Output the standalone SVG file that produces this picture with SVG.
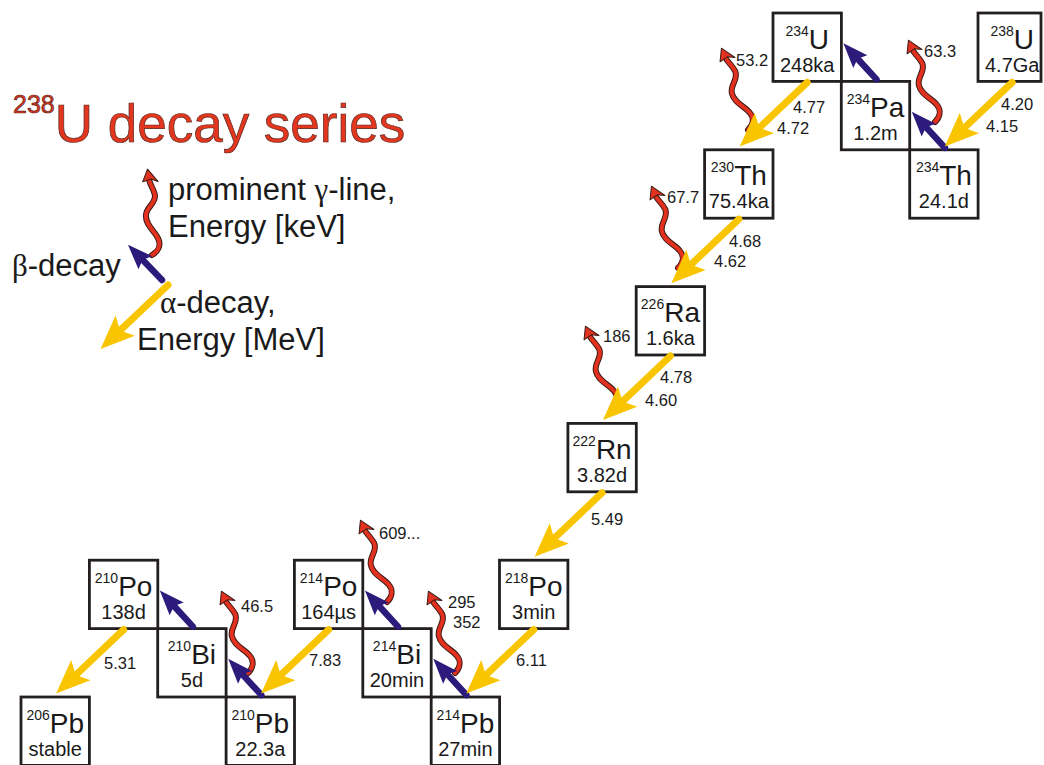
<svg xmlns="http://www.w3.org/2000/svg" xmlns:xlink="http://www.w3.org/1999/xlink" width="1044" height="765" viewBox="0 0 1044 765">
<style>
.box{fill:#fff;stroke:#231f20;stroke-width:2.8}
.sym{font-family:"Liberation Sans",Arial,sans-serif;font-size:28px;fill:#1a1a1a;text-anchor:middle}
.sup{font-size:14px}
.hl{font-family:"Liberation Sans",Arial,sans-serif;font-size:20px;fill:#1a1a1a;text-anchor:middle}
.en{font-family:"Liberation Sans",Arial,sans-serif;font-size:16.5px;fill:#1a1a1a}
.lg{font-family:"Liberation Sans",Arial,sans-serif;font-size:31px;fill:#1a1a1a}
.gk{font-family:"Liberation Serif","Times New Roman",serif}
.title{font-family:"Liberation Sans",Arial,sans-serif;fill:#e3361e;stroke:#5a2a22;stroke-width:0.7}
</style>
<defs>
<g id="alpha">
<path d="M0,0 L67,0" stroke="#f8c500" stroke-width="7" stroke-linecap="round" fill="none"/>
<path d="M93,0 L59,-14 L66,0 L59,14 Z" fill="#f8c500"/>
</g>
<g id="beta">
<path d="M0,0 L28,0" stroke="#2d1b7c" stroke-width="6.5" stroke-linecap="round" fill="none"/>
<path d="M49,0 L24,-9.5 L28,0 L24,9.5 Z" fill="#2d1b7c"/>
</g>
<g id="gam">
<path d="M0,0 C6,-3 10,-9 7,-16 C4,-24 -5,-30 -4,-40 C-3,-49 7,-51 6,-60 C5,-66 2,-70 1,-75" fill="none" stroke="#3a1a14" stroke-width="6" stroke-linecap="round"/>
<path d="M0,0 C6,-3 10,-9 7,-16 C4,-24 -5,-30 -4,-40 C-3,-49 7,-51 6,-60 C5,-66 2,-70 1,-75" fill="none" stroke="#e2311f" stroke-width="4" stroke-linecap="round"/>
<path d="M0,-86 L10,-73 L3,-76 L-5.5,-73.5 Z" fill="#e2311f" stroke="#3a1a14" stroke-width="1" stroke-linejoin="round"/>
</g>
</defs>

<g id="title">
<text class="title" x="13" y="142"><tspan font-size="25" dy="-29">238</tspan><tspan font-size="53" dy="29">U decay series</tspan></text>
</g>

<g id="legend">
<use xlink:href="#gam" href="#gam" transform="translate(152,255) rotate(-3)"/>
<use xlink:href="#beta" href="#beta" transform="translate(162,280) rotate(-134)"/>
<use xlink:href="#alpha" href="#alpha" transform="translate(168,285) rotate(136.5)"/>
<text class="lg" x="168" y="200">prominent <tspan class="gk">γ</tspan>-line,</text>
<text class="lg" x="168" y="237">Energy [keV]</text>
<text class="lg" x="12" y="276"><tspan class="gk">β</tspan>-decay</text>
<text class="lg" x="160" y="313"><tspan class="gk">α</tspan>-decay,</text>
<text class="lg" x="137" y="350">Energy [MeV]</text>
</g>

<g id="n238U"><rect class="box" x="978" y="13" width="63" height="68.4"/><text class="sym" x="1012.2" y="48.5"><tspan class="sup" dy="-13">238</tspan><tspan dy="13">U</tspan></text><text class="hl" x="1012.2" y="71.5">4.7Ga</text></g>
<g id="n234Th"><rect class="box" x="909.7" y="149.8" width="68.4" height="68.4"/><text class="sym" x="943.9" y="185.3"><tspan class="sup" dy="-13">234</tspan><tspan dy="13">Th</tspan></text><text class="hl" x="943.9" y="208.3">24.1d</text></g>
<g id="n234Pa"><rect class="box" x="841.3" y="81.4" width="68.4" height="68.4"/><text class="sym" x="875.5" y="116.9"><tspan class="sup" dy="-13">234</tspan><tspan dy="13">Pa</tspan></text><text class="hl" x="875.5" y="139.9">1.2m</text></g>
<g id="n234U"><rect class="box" x="773" y="13" width="68.4" height="68.4"/><text class="sym" x="807.2" y="48.5"><tspan class="sup" dy="-13">234</tspan><tspan dy="13">U</tspan></text><text class="hl" x="807.2" y="71.5">248ka</text></g>
<g id="n230Th"><rect class="box" x="704.6" y="149.8" width="68.4" height="68.4"/><text class="sym" x="738.8" y="185.3"><tspan class="sup" dy="-13">230</tspan><tspan dy="13">Th</tspan></text><text class="hl" x="738.8" y="208.3">75.4ka</text></g>
<g id="n226Ra"><rect class="box" x="636.2" y="286.6" width="68.4" height="68.4"/><text class="sym" x="670.4" y="322.1"><tspan class="sup" dy="-13">226</tspan><tspan dy="13">Ra</tspan></text><text class="hl" x="670.4" y="345.1">1.6ka</text></g>
<g id="n222Rn"><rect class="box" x="567.9" y="423.4" width="68.4" height="68.4"/><text class="sym" x="602.1" y="458.9"><tspan class="sup" dy="-13">222</tspan><tspan dy="13">Rn</tspan></text><text class="hl" x="602.1" y="481.9">3.82d</text></g>
<g id="n218Po"><rect class="box" x="499.5" y="560.2" width="68.4" height="68.4"/><text class="sym" x="533.7" y="595.7"><tspan class="sup" dy="-13">218</tspan><tspan dy="13">Po</tspan></text><text class="hl" x="533.7" y="618.7">3min</text></g>
<g id="n214Pb"><rect class="box" x="431.2" y="697" width="68.4" height="68.4"/><text class="sym" x="465.4" y="732.5"><tspan class="sup" dy="-13">214</tspan><tspan dy="13">Pb</tspan></text><text class="hl" x="465.4" y="755.5">27min</text></g>
<g id="n214Bi"><rect class="box" x="362.8" y="628.6" width="68.4" height="68.4"/><text class="sym" x="397" y="664.1"><tspan class="sup" dy="-13">214</tspan><tspan dy="13">Bi</tspan></text><text class="hl" x="397" y="687.1">20min</text></g>
<g id="n214Po"><rect class="box" x="294.4" y="560.2" width="68.4" height="68.4"/><text class="sym" x="328.6" y="595.7"><tspan class="sup" dy="-13">214</tspan><tspan dy="13">Po</tspan></text><text class="hl" x="328.6" y="618.7">164µs</text></g>
<g id="n210Pb"><rect class="box" x="226.1" y="697" width="68.4" height="68.4"/><text class="sym" x="260.3" y="732.5"><tspan class="sup" dy="-13">210</tspan><tspan dy="13">Pb</tspan></text><text class="hl" x="260.3" y="755.5">22.3a</text></g>
<g id="n210Bi"><rect class="box" x="157.7" y="628.6" width="68.4" height="68.4"/><text class="sym" x="191.9" y="664.1"><tspan class="sup" dy="-13">210</tspan><tspan dy="13">Bi</tspan></text><text class="hl" x="191.9" y="687.1">5d</text></g>
<g id="n210Po"><rect class="box" x="89.4" y="560.2" width="68.4" height="68.4"/><text class="sym" x="123.6" y="595.7"><tspan class="sup" dy="-13">210</tspan><tspan dy="13">Po</tspan></text><text class="hl" x="123.6" y="618.7">138d</text></g>
<g id="n206Pb"><rect class="box" x="21" y="697" width="68.4" height="68.4"/><text class="sym" x="55.2" y="732.5"><tspan class="sup" dy="-13">206</tspan><tspan dy="13">Pb</tspan></text><text class="hl" x="55.2" y="755.5">stable</text></g>

<g id="connectors">
<g id="gammas">
<use xlink:href="#gam" href="#gam" transform="translate(935,122) rotate(-18)"/>
<use xlink:href="#gam" href="#gam" transform="translate(748,130) rotate(-18)"/>
<use xlink:href="#gam" href="#gam" transform="translate(678,268) rotate(-18)"/>
<use xlink:href="#gam" href="#gam" transform="translate(612,408) rotate(-18)"/>
<use xlink:href="#gam" href="#gam" transform="translate(387,602) rotate(-18)"/>
<use xlink:href="#gam" href="#gam" transform="translate(455,673) rotate(-18)"/>
<use xlink:href="#gam" href="#gam" transform="translate(248,673) rotate(-18)"/>
</g>
<g id="betas">
<use xlink:href="#beta" href="#beta" transform="translate(944.9,147.8) rotate(-132.5)"/>
<use xlink:href="#beta" href="#beta" transform="translate(876.5,79.4) rotate(-132.5)"/>
<use xlink:href="#beta" href="#beta" transform="translate(466.4,695) rotate(-132.5)"/>
<use xlink:href="#beta" href="#beta" transform="translate(398,626.6) rotate(-132.5)"/>
<use xlink:href="#beta" href="#beta" transform="translate(261.3,695) rotate(-132.5)"/>
<use xlink:href="#beta" href="#beta" transform="translate(192.9,626.6) rotate(-132.5)"/>
</g>
<g id="alphas">
<use xlink:href="#alpha" href="#alpha" transform="translate(1012.2,82.4) rotate(136.5)"/>
<use xlink:href="#alpha" href="#alpha" transform="translate(807.2,82.4) rotate(136.5)"/>
<use xlink:href="#alpha" href="#alpha" transform="translate(738.8,219.2) rotate(136.5)"/>
<use xlink:href="#alpha" href="#alpha" transform="translate(670.4,356) rotate(136.5)"/>
<use xlink:href="#alpha" href="#alpha" transform="translate(602.1,492.8) rotate(136.5)"/>
<use xlink:href="#alpha" href="#alpha" transform="translate(533.7,629.6) rotate(136.5)"/>
<use xlink:href="#alpha" href="#alpha" transform="translate(328.6,629.6) rotate(136.5)"/>
<use xlink:href="#alpha" href="#alpha" transform="translate(123.6,629.6) rotate(136.5)"/>
</g>
<g id="labels">
<text class="en" x="924" y="57">63.3</text>
<text class="en" x="736" y="66">53.2</text>
<text class="en" x="667" y="203">67.7</text>
<text class="en" x="603" y="342">186</text>
<text class="en" x="379" y="539">609...</text>
<text class="en" x="448" y="608">295</text>
<text class="en" x="453" y="628">352</text>
<text class="en" x="241" y="612">46.5</text>
<text class="en" x="1001" y="110">4.20</text>
<text class="en" x="986" y="132">4.15</text>
<text class="en" x="793" y="113">4.77</text>
<text class="en" x="777" y="134">4.72</text>
<text class="en" x="729" y="247">4.68</text>
<text class="en" x="714" y="267">4.62</text>
<text class="en" x="660" y="383">4.78</text>
<text class="en" x="645" y="406">4.60</text>
<text class="en" x="591" y="525">5.49</text>
<text class="en" x="516" y="666">6.11</text>
<text class="en" x="309" y="666">7.83</text>
<text class="en" x="104" y="669">5.31</text>
</g>
</g>
</svg>
